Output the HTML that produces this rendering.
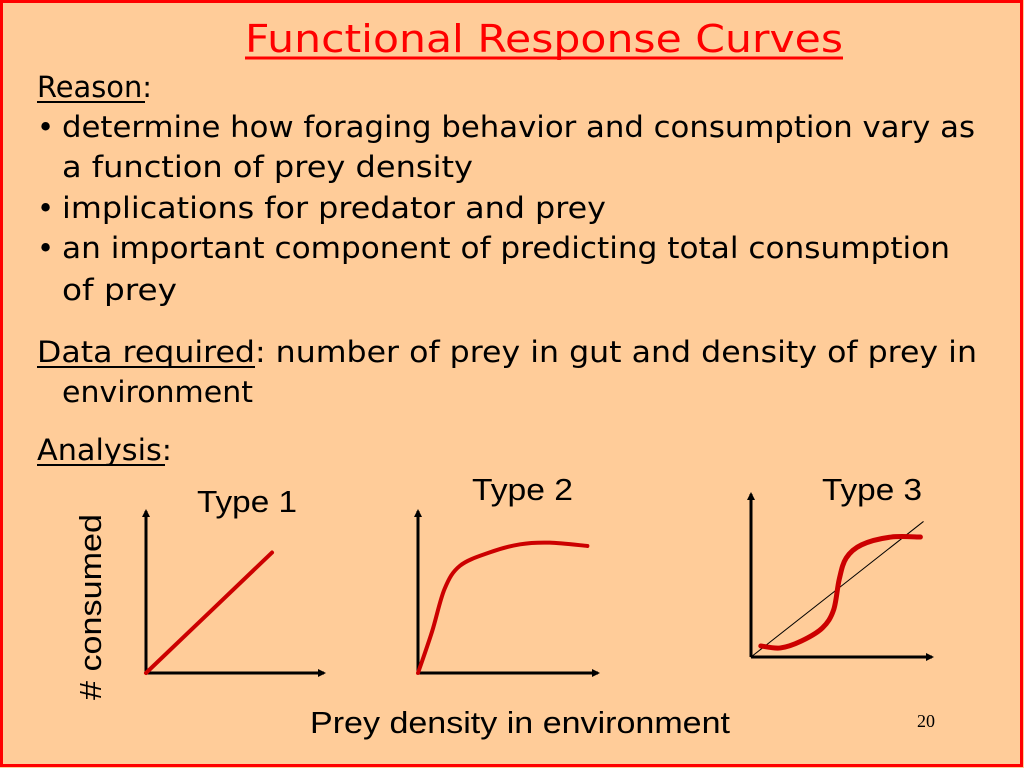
<!DOCTYPE html>
<html><head><meta charset="utf-8"><style>
html,body{margin:0;padding:0;background:#FFCC99;}
svg{display:block;}
.b{font-family:"DejaVu Sans","Liberation Sans",sans-serif;font-size:29px;fill:#000;}
.a{font-family:"Liberation Sans",Arial,sans-serif;font-size:31px;fill:#000;}
</style></head><body>
<svg id="slide" width="1024" height="768" viewBox="0 0 1024 768" xmlns="http://www.w3.org/2000/svg">
<rect x="1.5" y="1.5" width="1020" height="764" fill="#FFCC99" stroke="#FF0000" stroke-width="3"/>
<text x="245" y="52" textLength="598" lengthAdjust="spacingAndGlyphs" font-family="DejaVu Sans, Liberation Sans, sans-serif" font-size="38" fill="#FF0000">Functional Response Curves</text>
<line x1="245" y1="58" x2="843" y2="58" stroke="#FF0000" stroke-width="3"/>
<text class="b" x="37" y="97" textLength="115" lengthAdjust="spacingAndGlyphs">Reason:</text>
<line x1="37" y1="102" x2="145" y2="102" stroke="#000" stroke-width="2"/>
<text class="b" x="37" y="137">•</text>
<text class="b" x="62" y="137" textLength="913" lengthAdjust="spacingAndGlyphs">determine how foraging behavior and consumption vary as</text>
<text class="b" x="62" y="177" textLength="411" lengthAdjust="spacingAndGlyphs">a function of prey density</text>
<text class="b" x="37" y="218">•</text>
<text class="b" x="62" y="218" textLength="544" lengthAdjust="spacingAndGlyphs">implications for predator and prey</text>
<text class="b" x="37" y="258">•</text>
<text class="b" x="62" y="258" textLength="888" lengthAdjust="spacingAndGlyphs">an important component of predicting total consumption</text>
<text class="b" x="62" y="300" textLength="115" lengthAdjust="spacingAndGlyphs">of prey</text>
<text class="b" x="37" y="362" textLength="940" lengthAdjust="spacingAndGlyphs">Data required: number of prey in gut and density of prey in</text>
<line x1="37" y1="367" x2="255" y2="367" stroke="#000" stroke-width="2"/>
<text class="b" x="62" y="402" textLength="191" lengthAdjust="spacingAndGlyphs">environment</text>
<text class="b" x="37" y="460" textLength="135" lengthAdjust="spacingAndGlyphs">Analysis:</text>
<line x1="37" y1="465" x2="165" y2="465" stroke="#000" stroke-width="2"/>
<defs><marker id="arr" markerWidth="8" markerHeight="8" refX="6" refY="4" orient="auto" markerUnits="userSpaceOnUse"><path d="M0,0 L8,4 L0,8 z" fill="#000"/></marker></defs>
<g id="charts"></g>
<text class="a" x="197" y="512" textLength="100" lengthAdjust="spacingAndGlyphs">Type 1</text>
<text class="a" x="472" y="500" textLength="101" lengthAdjust="spacingAndGlyphs">Type 2</text>
<text class="a" x="822" y="500" textLength="100" lengthAdjust="spacingAndGlyphs">Type 3</text>
<text class="a" transform="translate(101,700) rotate(-90)" textLength="186" lengthAdjust="spacingAndGlyphs">#  consumed</text>
<text class="a" x="310" y="733" textLength="420" lengthAdjust="spacingAndGlyphs">Prey density in environment</text>
<text x="917" y="727" font-family="Liberation Serif, serif" font-size="18" fill="#000">20</text>
</svg>
<script>
// data (arbitrary units: x = prey density, y = number consumed)
const type1X = [0, 9];
const type1Y = [0, 7.3];
const type2X = [0, 1, 1.9, 3, 5.1, 7.3, 9.4, 12.1];
const type2Y = [0, 2.5, 5.1, 6.5, 7.3, 7.8, 7.9, 7.7];
const type3X = [0.7, 2.1, 3.6, 5.1, 5.9, 6.3, 6.8, 7.9, 10, 12.1];
const type3Y = [0.67, 0.55, 0.97, 1.76, 2.85, 4.7, 6.0, 6.8, 7.27, 7.27];
const type3RefX = [0, 12.3];
const type3RefY = [0, 8.2];

const NS = 'http://www.w3.org/2000/svg';
const g = document.getElementById('charts');
const UX = 14, UY = 16.5;
const panels = [
  {ox:146, oy:673, top:505, right:330, name:'type-1'},
  {ox:418, oy:673, top:505, right:604, name:'type-2'},
  {ox:751, oy:657, top:488, right:938, name:'type-3'}
];
function sx(p, v){ return p.ox + v*UX; }
function sy(p, v){ return p.oy - v*UY; }
function pathFor(p, xs, ys){
  const pts = xs.map((x,i)=>[sx(p,x), sy(p,ys[i])]);
  let d = 'M' + pts[0][0] + ',' + pts[0][1];
  for (let i=0;i<pts.length-1;i++){
    const p0 = pts[Math.max(0,i-1)], p1 = pts[i], p2 = pts[i+1], p3 = pts[Math.min(pts.length-1,i+2)];
    const c1 = [p1[0]+(p2[0]-p0[0])/6, p1[1]+(p2[1]-p0[1])/6];
    const c2 = [p2[0]-(p3[0]-p1[0])/6, p2[1]-(p3[1]-p1[1])/6];
    d += ' C'+c1[0]+','+c1[1]+' '+c2[0]+','+c2[1]+' '+p2[0]+','+p2[1];
  }
  return d;
}
panels.forEach(p=>{
  const ya = document.createElementNS(NS,'line');
  
  
  ya.setAttribute('x1',p.ox); ya.setAttribute('y1',p.oy); ya.setAttribute('x2',p.ox); ya.setAttribute('y2',p.top+6);
  ya.setAttribute('stroke','#000'); ya.setAttribute('stroke-width','3'); ya.setAttribute('marker-end','url(#arr)');
  g.appendChild(ya);
  const xa = document.createElementNS(NS,'line');
  
  
  xa.setAttribute('x1',p.ox); xa.setAttribute('y1',p.oy); xa.setAttribute('x2',p.right-6); xa.setAttribute('y2',p.oy);
  xa.setAttribute('stroke','#000'); xa.setAttribute('stroke-width','3'); xa.setAttribute('marker-end','url(#arr)');
  g.appendChild(xa);
});
function addCurve(p, xs, ys, name, color, w){
  const e = document.createElementNS(NS,'path');
  
  
  e.setAttribute('d', pathFor(p, xs, ys));
  e.setAttribute('fill','none'); e.setAttribute('stroke',color); e.setAttribute('stroke-width',w);
  e.setAttribute('stroke-linecap','round');
  g.appendChild(e);
}
addCurve(panels[0], type1X, type1Y, 'type-1-curve', '#CC0000', 4);
addCurve(panels[1], type2X, type2Y, 'type-2-curve', '#CC0000', 4);
addCurve(panels[2], type3RefX, type3RefY, 'type-3-reference-line', '#000', 1);
addCurve(panels[2], type3X, type3Y, 'type-3-curve', '#CC0000', 5);
</script>
</body></html>
